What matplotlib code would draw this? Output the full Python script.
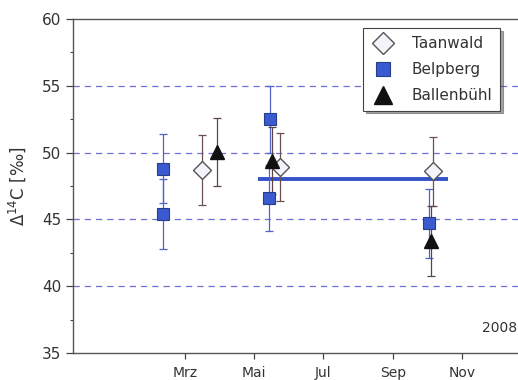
import matplotlib.pyplot as plt
from matplotlib.ticker import MultipleLocator

# day of year 2008 for each sample, value and 1-sigma error in permil
taan_day = [75, 144, 279]
taan_val = [48.7, 48.9, 48.6]
taan_err = [2.6, 2.55, 2.6]

belp_day = [40.5, 40.5, 135, 134, 276]
belp_val = [48.8, 45.4, 52.5, 46.6, 44.7]
belp_err = [2.6, 2.6, 2.5, 2.5, 2.6]

ball_day = [88, 137, 278]
ball_val = [50.05, 49.4, 43.4]
ball_err = [2.55, 2.5, 2.6]

# background level over the growing season
bg_day = [124.5, 292.5]
bg_val = [48.0, 48.0]

month_days = [60, 121, 182, 244, 305]
month_labels = ['Mrz', 'Mai', 'Jul', 'Sep', 'Nov']

fig = plt.figure(figsize=(5.18, 3.8), dpi=100)
ax = fig.add_axes([0.141, 0.071, 0.862, 0.879])

grid_col = '#6f6fd6'
for yv in [40, 45, 50, 55]:
    ax.axhline(yv, color=grid_col, lw=0.9, ls=(0, (5, 4)), zorder=0)

ax.plot(bg_day, bg_val, color='#3553c8', lw=2.8, solid_capstyle='butt', zorder=2)

ax.errorbar(belp_day, belp_val, yerr=belp_err, fmt='none', ecolor='#5262c8',
            elinewidth=0.9, capsize=3, capthick=0.9, zorder=3)
ax.errorbar(taan_day, taan_val, yerr=taan_err, fmt='none', ecolor='#6a5050',
            elinewidth=0.9, capsize=3, capthick=0.9, zorder=3)
ax.errorbar(ball_day, ball_val, yerr=ball_err, fmt='none', ecolor='#5a4545',
            elinewidth=0.9, capsize=3, capthick=0.9, zorder=3)

ax.plot(taan_day, taan_val, 'D', ms=9, mfc='#f4f3fb', mec='#555555', mew=1.0,
        ls='none', label='Taanwald', zorder=4)
ax.plot(belp_day, belp_val, 's', ms=8, mfc='#3a5bd0', mec='#283c8c', mew=0.8,
        ls='none', label='Belpberg', zorder=4)
ax.plot(ball_day, ball_val, '^', ms=10, mfc='#111111', mec='#111111',
        ls='none', label='Ballenbühl', zorder=5)

ax.set_xlim(-39, 356)
ax.set_ylim(35, 60)
ax.set_xticks(month_days)
ax.set_xticklabels(month_labels, fontsize=10, color='#333333')
ax.yaxis.set_major_locator(MultipleLocator(5))
ax.yaxis.set_minor_locator(MultipleLocator(2.5))
ax.tick_params(axis='y', which='major', length=5, width=0.9, labelsize=11,
               colors='#444444', labelcolor='#333333')
ax.tick_params(axis='y', which='minor', length=2, width=0.8, colors='#444444')
ax.tick_params(axis='x', length=4, width=0.9, colors='#444444',
               labelcolor='#333333', pad=5)

for side in ['left', 'bottom', 'top']:
    ax.spines[side].set_color('#555555')
    ax.spines[side].set_linewidth(1.0)
ax.spines['right'].set_visible(False)

ax.set_ylabel('Δ$^{14}$C [‰]', fontsize=12, color='#333333', labelpad=10)

ax.text(0.995, 0.055, '2008', transform=ax.transAxes, ha='right', va='bottom',
        fontsize=10, color='#333333')

leg = ax.legend(loc='upper right', bbox_to_anchor=(0.957, 0.972), fontsize=11,
                frameon=True, fancybox=False, shadow=True, borderpad=0.5,
                handletextpad=1.1, labelspacing=0.72, borderaxespad=0,
                markerscale=1.25, handlelength=1.6)
leg.get_frame().set_edgecolor('#444444')
leg.get_frame().set_linewidth(0.8)
for t in leg.get_texts():
    t.set_color('#333333')

fig.savefig('out.png', dpi=100)
